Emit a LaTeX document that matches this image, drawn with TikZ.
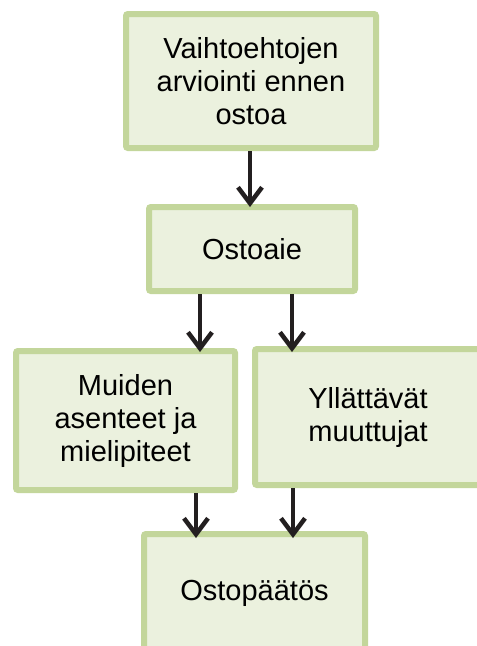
\documentclass[tikz,border=0pt]{standalone}
\usepackage{fontspec}
\setmainfont{Liberation Sans}
\usetikzlibrary{arrows.meta}
\definecolor{boxline}{HTML}{C3D69B}
\definecolor{boxfill}{HTML}{EBF1DE}
\definecolor{arrowcol}{HTML}{231F20}
\tikzset{
  stagebox/.style={draw=boxline, fill=boxfill, line width=6pt, rounded corners=2pt,
    align=center, font=\fontsize{29}{33}\selectfont, inner sep=0pt},
  flowarrow/.style={draw=arrowcol, line width=4.5pt,
    -{Straight Barb[length=16pt,width=24pt]}}
}
\begin{document}
\begin{tikzpicture}[x=1pt,y=-1pt]
          \useasboundingbox (0,0) rectangle (477,646);
          \node[stagebox, minimum width=250pt, minimum height=134pt] (V) at (251,81) {Vaihtoehtojen\\arviointi ennen\\ostoa};
          \node[stagebox, minimum width=206pt, minimum height=84pt] (O) at (252,249) {Ostoaie};
          \node[stagebox, minimum width=219pt, minimum height=139pt] (M) at (125.5,420.5) {Muiden\\asenteet ja\\mielipiteet};
          \node[stagebox, minimum width=226pt, minimum height=136pt] (Y) at (368,417) {Yllättävät\\muuttujat};
          \node[stagebox, minimum width=221pt, minimum height=118pt] (P) at (254.5,593) {Ostopäätös};

          \coordinate (V1) at (250,151);
          \coordinate (O0) at (250,207);
          \coordinate (O1) at (200,294);
          \coordinate (O2) at (292,294);
          \coordinate (M0) at (200,352);
          \coordinate (Y0) at (292,352);
          \coordinate (M1) at (196,493);
          \coordinate (Y1) at (293,488);
          \coordinate (P1) at (196,538);
          \coordinate (P2) at (293,538);

          \draw[flowarrow] (V1) -- (O0);
          \draw[flowarrow] (O1) -- (M0);
          \draw[flowarrow] (O2) -- (Y0);
          \draw[flowarrow] (M1) -- (P1);
          \draw[flowarrow] (Y1) -- (P2);
        \end{tikzpicture}
\end{document}
